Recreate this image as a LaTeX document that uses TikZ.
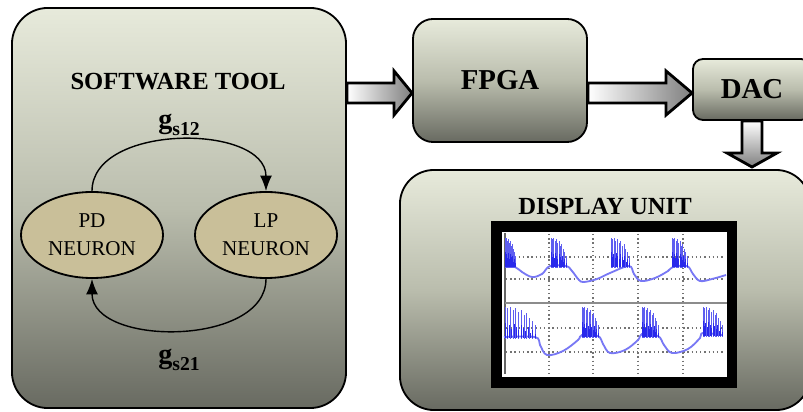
\documentclass[tikz,border=0pt]{standalone}
\usepackage{fontspec}
\setmainfont{Liberation Serif}
\usepackage{tikz}
\usepackage{xcolor}
\usetikzlibrary{shapes.geometric,arrows.meta,calc}

\definecolor{boxtop}{RGB}{231,234,219}
\definecolor{boxmid}{RGB}{186,189,173}
\definecolor{boxbot}{RGB}{104,106,97}
\definecolor{neuronfill}{RGB}{201,191,153}
\definecolor{wavecol}{RGB}{120,120,245}
\definecolor{spikecol}{RGB}{40,40,235}

\tikzset{
  box/.style={draw=black, line width=1.3pt, rounded corners=#1,
    top color=boxtop, bottom color=boxbot, middle color=boxmid},
  box/.default=0.5cm,
  title/.style={font=\fontsize{17.5}{20}\selectfont\bfseries},
  neuron/.style={ellipse, draw, line width=1.3pt, fill=neuronfill,
    minimum width=3.55cm, minimum height=2.15cm, align=center,
    font=\fontsize{15}{20}\selectfont},
  link/.style={line width=1pt, -{Latex[length=11pt,width=8.5pt]}},
  flow/.style={draw=black, line width=2pt, line join=miter},
  grid/.style={dotted, line width=1pt, black!55},
  wave/.style={wavecol, line width=1.3pt},
  spike/.style={spikecol!75, line width=0.6pt},
  core/.style={spikecol, line width=0.7pt}
}

% horizontal block arrow: start, tip, head length
\newcommand{\hflow}[3]{%
  \shadedraw[flow, left color=white, right color=black!50]
    ($(#1)+(0,-10)$) -- ($(#2)+(-#3,-10)$) -- ($(#2)+(-#3,-22)$) -- (#2)
    -- ($(#2)+(-#3,22)$) -- ($(#2)+(-#3,10)$) -- ($(#1)+(0,10)$) -- cycle;}

% burst of spikes: x start, x end, top y, base y
\newcommand{\burst}[4]{%
  \foreach \s/\h in {0/0,1/1,2/0.2,3/3,4/1.5,5/5,6/3,7/8,8/6,9/11,10/14,11/18}
    \draw[spike] ({#1+\s*(#2-#1)/11},{#4+2}) -- ({#1+\s*(#2-#1)/11},{#3+\h});
  \foreach \s/\h in {0/14,1/9,2/12,3/8,4/13,5/10,6/7,7/12,8/9,9/6,10/10,11/4,12/7,13/3}
    \draw[core] ({#1+\s*(#2-#1)/13},{#4+1}) -- ({#1+\s*(#2-#1)/13},{#4-\h});}

\begin{document}
\begin{tikzpicture}[x=0.025cm, y=-0.025cm]
\useasboundingbox (0,0) rectangle (803,412);
\clip (0,0) rectangle (803,412);

% blocks
\node[box=0.9cm, minimum width=8.35cm, minimum height=10cm] (sw) at (179,208) {};
\node[title] (swt) at (178,82) {SOFTWARE TOOL};
\node[box=0.5cm, minimum width=4.35cm, minimum height=3.075cm, title,
  font=\fontsize{20.5}{22}\selectfont\bfseries] (fpga) at (500,80.5) {\raisebox{-5pt}{FPGA}};
\node[box=0.25cm, minimum width=2.95cm, minimum height=1.525cm,
  font=\fontsize{20.5}{22}\selectfont\bfseries] (dac) at (752,89.5) {DAC};
\node[box=0.85cm, minimum width=10.25cm, minimum height=6cm] (disp) at (605,290) {};
\node[title] (dispt) at (605,206) {DISPLAY UNIT};

% neurons
\node[neuron] (pd) at (92,235) {PD\\NEURON};
\node[neuron] (lp) at (266,235) {LP\\NEURON};
\draw[link] (pd.north) to[out=90, in=90] (lp.north);
\draw[link] (lp.south) to[out=-90, in=-90] (pd.south);
\node (g12) at (179,125) {\fontsize{20}{20}\selectfont\bfseries g\fontsize{14}{16}\selectfont\raisebox{-5pt}{s12}};
\node (g21) at (179,360) {\fontsize{20}{20}\selectfont\bfseries g\fontsize{14}{16}\selectfont\raisebox{-5pt}{s21}};

% block arrows
\coordinate (lvl) at (0,93);
\hflow{sw.east |- lvl}{fpga.west |- lvl}{18}
\hflow{fpga.east |- lvl}{dac.west |- lvl}{26}
\coordinate (dtip) at (dac.south |- 0,167);
\shadedraw[flow, top color=white, bottom color=black!50]
  ($(dac.south)+(-10,0)$) -- ($(dtip)+(-10,-14)$) -- ($(dtip)+(-25,-14)$) -- (dtip)
  -- ($(dtip)+(25,-14)$) -- ($(dtip)+(10,-14)$) -- ($(dac.south)+(10,0)$) -- cycle;

% screen
\fill[black] (491,221) rectangle (737,388);
\fill[white] (502,232) rectangle (727,377);
\foreach \gx in {549,593,638,683}
  \draw[grid] (\gx,234) -- (\gx,374);
\foreach \gy in {257,279,328,352}
  \draw[grid] (506,\gy) -- (725,\gy);
\draw[black!60, line width=1pt] (505,233) -- (505,374);
\draw[black!45, line width=1.5pt] (505,303) -- (727,303);

% top trace
\draw[wave] plot[smooth, tension=0.6] coordinates {(505,266) (515,267) (522,272)
  (532,277) (542,274) (550,266) (566,266) (572,271) (579,280) (584,282) (597,279)
  (610,273) (629,266) (634,274) (641,281) (655,278) (668,271) (673,267) (687,266)
  (693,274) (700,281) (712,279) (726,275)};
\burst{505}{515}{238}{266}
\burst{551}{566}{238}{266}
\burst{611}{629}{238}{266}
\burst{672}{687}{238}{266}

% bottom trace
\draw[wave] plot[smooth, tension=0.6] coordinates {(504,337) (535,337) (540,345)
  (547,355) (563,351) (578,340) (582,335) (598,336) (603,344) (610,353) (625,350)
  (638,340) (642,334) (658,336) (664,345) (672,353) (688,349) (700,338) (703,333)
  (722,335)};
\burst{505}{535}{307}{337}
\burst{582}{598}{307}{336}
\burst{642}{658}{307}{336}
\burst{703}{722}{307}{335}
\end{tikzpicture}
\end{document}
